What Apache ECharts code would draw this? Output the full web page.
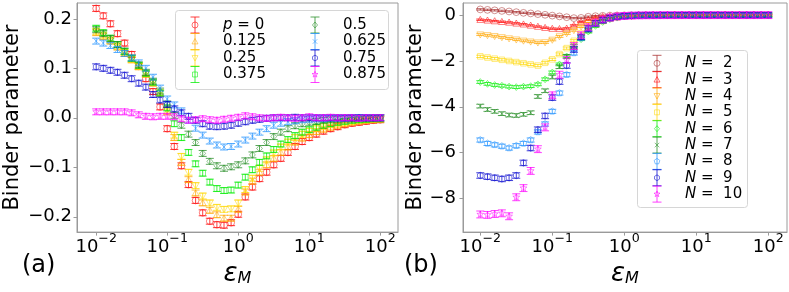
<!DOCTYPE html>
<html><head><meta charset="utf-8">
<script src="https://cdn.jsdelivr.net/npm/echarts@6/dist/echarts.min.js"></script>
<style>html,body{margin:0;padding:0;background:#fff}#c{width:789px;height:292px}</style>
</head><body><div id="c"></div>
<script>
// log10(eps_M) sample grid
const logEps = [-2.0,-1.9,-1.8,-1.7,-1.6,-1.5,-1.4,-1.3,-1.2,-1.1,-1.0,-0.9,-0.8,-0.7,-0.6,-0.5,-0.4,-0.3,-0.2,-0.1,0.0,0.1,0.2,0.3,0.4,0.5,0.6,0.7,0.8,0.9,1.0,1.1,1.2,1.3,1.4,1.5,1.6,1.7,1.8,1.9,2.0];

// panel (a): Binder parameter for different p
const pNames = ['p = 0','0.125','0.25','0.375','0.5','0.625','0.75','0.875'];
const bp0   = [0.221,0.206,0.19,0.17,0.151,0.128,0.104,0.079,0.053,0.022,-0.022,-0.058,-0.097,-0.135,-0.167,-0.192,-0.209,-0.216,-0.217,-0.212,-0.195,-0.16,-0.14,-0.123,-0.11,-0.095,-0.082,-0.07,-0.058,-0.048,-0.04,-0.033,-0.027,-0.022,-0.018,-0.014,-0.011,-0.009,-0.007,-0.005,-0.004];
const bp125 = [0.172,0.164,0.155,0.143,0.13,0.117,0.103,0.088,0.07,0.05,0.012,-0.04,-0.09,-0.125,-0.152,-0.172,-0.187,-0.196,-0.203,-0.203,-0.185,-0.15,-0.128,-0.11,-0.095,-0.082,-0.07,-0.059,-0.049,-0.041,-0.034,-0.028,-0.023,-0.019,-0.015,-0.012,-0.009,-0.007,-0.005,-0.004,-0.003];
const bp25  = [0.175,0.167,0.157,0.145,0.132,0.118,0.104,0.089,0.071,0.05,0.015,-0.035,-0.078,-0.11,-0.137,-0.158,-0.172,-0.181,-0.185,-0.184,-0.172,-0.145,-0.122,-0.102,-0.085,-0.071,-0.059,-0.049,-0.04,-0.033,-0.027,-0.022,-0.018,-0.014,-0.011,-0.009,-0.007,-0.005,-0.004,-0.003,-0.002];
const bp375 = [0.181,0.172,0.161,0.148,0.134,0.12,0.106,0.09,0.072,0.05,0.02,-0.012,-0.04,-0.07,-0.093,-0.112,-0.13,-0.143,-0.147,-0.146,-0.136,-0.12,-0.105,-0.09,-0.077,-0.064,-0.053,-0.044,-0.036,-0.029,-0.024,-0.019,-0.015,-0.012,-0.009,-0.007,-0.005,-0.004,-0.003,-0.002,-0.002];
const bp5   = [0.178,0.17,0.16,0.148,0.135,0.121,0.107,0.092,0.074,0.054,0.028,0.005,-0.015,-0.033,-0.05,-0.072,-0.088,-0.097,-0.102,-0.099,-0.095,-0.087,-0.075,-0.062,-0.05,-0.038,-0.029,-0.022,-0.016,-0.012,-0.009,-0.007,-0.005,-0.004,-0.003,-0.002,-0.002,-0.001,-0.001,-0.001,0];
const bp625 = [0.155,0.151,0.146,0.138,0.13,0.121,0.111,0.1,0.082,0.06,0.038,0.026,0.014,-0.005,-0.021,-0.035,-0.047,-0.055,-0.059,-0.058,-0.053,-0.045,-0.037,-0.029,-0.022,-0.015,-0.011,-0.008,-0.006,-0.004,-0.003,-0.002,-0.002,-0.001,-0.001,-0.001,0,0,0,0,0];
const bp75  = [0.103,0.1,0.096,0.092,0.086,0.079,0.07,0.062,0.047,0.036,0.027,0.018,0.01,0.003,-0.005,-0.012,-0.017,-0.018,-0.017,-0.015,-0.011,-0.008,-0.005,-0.003,-0.001,0,0,0,0.001,0,0,0,0,0,0,0,0,0,0,0,0];
const bp875 = [0.012,0.012,0.012,0.012,0.012,0.01,0.006,0.003,0.002,0.003,0.003,0.002,-0.002,-0.005,-0.004,-0.002,-0.004,-0.005,-0.003,-0.001,0.001,0.004,0.002,0,-0.001,0,0.001,0,-0.001,0,0.002,0,0,0.001,0,0,0,-0.001,0,0,0];
const errA = [0.006,0.006,0.006,0.006,0.006,0.006,0.006,0.006];

// panel (b): Binder parameter for different N
const nNames = ['2','3','4','5','6','7','8','9','10'];
const bn2  = [0.25,0.23,0.21,0.185,0.16,0.13,0.1,0.075,0.045,0.015,-0.02,-0.055,-0.09,-0.13,-0.12,-0.07,-0.045,-0.03,-0.02,-0.012,-0.008,-0.005,-0.003,-0.002,-0.002,-0.001,-0.001,0,0,0,0,0,0,0,0,0,0,0,0,0,0];
const bn3  = [-0.2,-0.23,-0.26,-0.29,-0.32,-0.36,-0.4,-0.45,-0.5,-0.55,-0.59,-0.6,-0.58,-0.45,-0.3,-0.2,-0.12,-0.07,-0.045,-0.03,-0.02,-0.012,-0.008,-0.005,-0.003,-0.002,-0.001,-0.001,0,0,0,0,0,0,0,0,0,0,0,0,0];
const bn4  = [-0.85,-0.88,-0.92,-0.97,-1.02,-1.07,-1.12,-1.16,-1.2,-1.19,-1.08,-0.93,-0.8,-0.66,-0.5,-0.36,-0.25,-0.16,-0.1,-0.06,-0.04,-0.025,-0.015,-0.01,-0.006,-0.004,-0.003,-0.002,-0.001,-0.001,0,0,0,0,0,0,0,0,0,0,0];
const bn5  = [-1.8,-1.85,-1.9,-1.95,-2.0,-2.05,-2.1,-2.15,-2.2,-2.08,-1.93,-1.7,-1.44,-1.12,-0.8,-0.58,-0.4,-0.26,-0.16,-0.1,-0.06,-0.04,-0.025,-0.015,-0.01,-0.006,-0.004,-0.003,-0.002,-0.001,0,0,0,0,0,0,0,0,0,0,0];
const bn6  = [-2.92,-3.0,-3.05,-3.08,-3.12,-3.14,-3.12,-3.1,-3.02,-2.8,-2.5,-2.15,-1.8,-1.42,-1.05,-0.72,-0.47,-0.3,-0.18,-0.11,-0.06,-0.035,-0.02,-0.012,-0.008,-0.005,-0.003,-0.002,-0.001,-0.001,0,0,0,0,0,0,0,0,0,0,0];
const bn7  = [-3.97,-4.12,-4.2,-4.3,-4.36,-4.38,-4.33,-4.26,-3.55,-3.3,-2.7,-2.25,-1.8,-1.35,-0.98,-0.66,-0.42,-0.26,-0.16,-0.09,-0.05,-0.03,-0.018,-0.01,-0.006,-0.004,-0.002,-0.001,-0.001,0,0,0,0,0,0,0,0,0,0,0,0];
const bn8  = [-5.45,-5.6,-5.66,-5.72,-5.8,-5.7,-5.6,-5.45,-5.1,-4.75,-4.2,-3.4,-2.6,-1.65,-1.0,-0.62,-0.38,-0.23,-0.14,-0.08,-0.045,-0.025,-0.015,-0.01,-0.006,-0.004,-0.002,-0.001,-0.001,0,0,0,0,0,0,0,0,0,0,0,0];
const bn9  = [-7.0,-7.05,-7.1,-7.15,-7.1,-7.0,-6.45,-5.8,-5.0,-4.4,-3.6,-2.9,-2.2,-1.5,-0.95,-0.58,-0.35,-0.21,-0.12,-0.07,-0.04,-0.022,-0.012,-0.008,-0.005,-0.003,-0.002,-0.001,0,0,0,0,0,0,0,0,0,0,0,0,0];
const bn10 = [-8.7,-8.72,-8.68,-8.65,-8.78,-7.95,-7.55,-6.8,-5.85,-4.9,-3.5,-2.6,-1.95,-1.35,-0.88,-0.53,-0.32,-0.19,-0.11,-0.06,-0.035,-0.02,-0.012,-0.007,-0.004,-0.002,-0.001,-0.001,0,0,0,0,0,0,0,0,0,0,0,0,0];
const errB = [0.03,0.03,0.04,0.05,0.06,0.08,0.09,0.12,0.15];

// ticks
const xTicks = [-2,-1,0,1,2];
const yTicksA = [-0.2,-0.1,0,0.1,0.2];
const yTicksB = [-8,-6,-4,-2,0];

const seriesA = [bp0,bp125,bp25,bp375,bp5,bp625,bp75,bp875];
const seriesB = [bn2,bn3,bn4,bn5,bn6,bn7,bn8,bn9,bn10];

const FONT = 'DejaVu Sans';
const colorsA = ['#ff0000','#ffa500','#ffd700','#00ee00','#228b22','#1e90ff','#0000cd','#ff00ff'];
const shapesA = ['circle','triUp','triDown','square','diamond','cross','hexagon','star'];
const colorsB = ['#a52a2a','#ff0000','#ffa500','#ffd700','#00ee00','#228b22','#1e90ff','#0000cd','#ff00ff'];
const shapesB = ['circle','triUp','triDown','square','diamond','cross','pentagon','hexagon','star'];

function regPoly(n, cx, cy, r) {
  const pts = [];
  for (let k = 0; k < n; k++) { const a = 2 * Math.PI * k / n; pts.push([cx + r * Math.sin(a), cy - r * Math.cos(a)]); }
  return pts;
}
function starPts(cx, cy, r) {
  const pts = [];
  for (let k = 0; k < 10; k++) { const a = Math.PI * k / 5; const rr = k % 2 ? r * 0.42 : r; pts.push([cx + rr * Math.sin(a), cy - rr * Math.cos(a)]); }
  return pts;
}
function markerEls(shape, cx, cy, r, color, op) {
  const st = {fill: 'none', stroke: color, lineWidth: 1, opacity: op};
  switch (shape) {
    case 'circle': return [{type: 'circle', shape: {cx, cy, r}, style: st}];
    case 'triUp': return [{type: 'polygon', shape: {points: [[cx, cy - r], [cx + r, cy + r * 0.8], [cx - r, cy + r * 0.8]]}, style: st}];
    case 'triDown': return [{type: 'polygon', shape: {points: [[cx, cy + r], [cx + r, cy - r * 0.8], [cx - r, cy - r * 0.8]]}, style: st}];
    case 'square': { const s = r * 0.82; return [{type: 'rect', shape: {x: cx - s, y: cy - s, width: 2 * s, height: 2 * s}, style: st}]; }
    case 'diamond': return [{type: 'polygon', shape: {points: [[cx, cy - r], [cx + r * 0.85, cy], [cx, cy + r], [cx - r * 0.85, cy]]}, style: st}];
    case 'cross': { const s = r * 0.75; return [
      {type: 'line', shape: {x1: cx - s, y1: cy - s, x2: cx + s, y2: cy + s}, style: st},
      {type: 'line', shape: {x1: cx - s, y1: cy + s, x2: cx + s, y2: cy - s}, style: st}]; }
    case 'pentagon': return [{type: 'polygon', shape: {points: regPoly(5, cx, cy, r)}, style: st}];
    case 'hexagon': return [{type: 'polygon', shape: {points: regPoly(6, cx, cy, r * 0.95)}, style: st}];
    case 'star': return [{type: 'polygon', shape: {points: starPts(cx, cy, r * 1.05)}, style: st}];
  }
  return [];
}
function errEls(cx, top, bot, cw, color, op) {
  const ls = {stroke: color, lineWidth: 1, opacity: op};
  return [
    {type: 'line', shape: {x1: cx, y1: top, x2: cx, y2: bot}, style: ls},
    {type: 'line', shape: {x1: cx - cw, y1: top, x2: cx + cw, y2: top}, style: ls},
    {type: 'line', shape: {x1: cx - cw, y1: bot, x2: cx + cw, y2: bot}, style: ls}
  ];
}
function makeRender(shape, color) {
  return function (params, api) {
    const x = api.value(0), y = api.value(1), e = api.value(2);
    const c = api.coord([x, y]);
    const t = api.coord([x, y + e])[1];
    const b = api.coord([x, y - e])[1];
    return {type: 'group', children: errEls(c[0], t, b, 4, color, 0.75).concat(markerEls(shape, c[0], c[1], 3.4, color, 0.5))};
  };
}

const series = [];
seriesA.forEach((vals, i) => {
  series.push({type: 'custom', name: pNames[i], xAxisIndex: 0, yAxisIndex: 0, silent: true,
    renderItem: makeRender(shapesA[i], colorsA[i]), encode: {x: 0, y: 1},
    data: logEps.map((l, k) => [l, vals[k], errA[i]])});
});
seriesB.forEach((vals, i) => {
  series.push({type: 'custom', name: 'N = ' + nNames[i], xAxisIndex: 1, yAxisIndex: 1, silent: true,
    renderItem: makeRender(shapesB[i], colorsB[i]), encode: {x: 0, y: 1},
    data: logEps.map((l, k) => [l, vals[k], errB[i]])});
});

const axisGrey = '#9a9a9a';
function xAxisCfg(idx, min, max) {
  return {
    type: 'value', gridIndex: idx, min, max,
    name: '{e|ε}{m|M}', nameLocation: 'middle', nameGap: 17,
    nameTextStyle: {rich: {
      e: {fontFamily: FONT, fontSize: 26, fontStyle: 'italic', lineHeight: 26, verticalAlign: 'top', color: '#000'},
      m: {fontFamily: FONT, fontSize: 16, fontStyle: 'italic', lineHeight: 14, verticalAlign: 'bottom', color: '#000'}}},
    splitLine: {show: false},
    axisLine: {onZero: false, lineStyle: {color: axisGrey, width: 1}},
    axisTick: {customValues: xTicks, length: 3.5, lineStyle: {color: axisGrey}},
    axisLabel: {customValues: xTicks, margin: 0,
      formatter: v => '{b|10}{s|' + (v < 0 ? '\u2212' + (-v) : v) + '}',
      rich: {
        b: {fontFamily: FONT, fontSize: 18, lineHeight: 24, verticalAlign: 'bottom', color: '#000'},
        s: {fontFamily: FONT, fontSize: 12.6, lineHeight: 2, verticalAlign: 'top', color: '#000'}}}
  };
}
function yAxisCfg(idx, min, max, ticks, gap, margin, fmt) {
  return {
    type: 'value', gridIndex: idx, min, max,
    name: 'Binder parameter', nameLocation: 'middle', nameGap: gap,
    nameTextStyle: {fontFamily: FONT, fontSize: 21, color: '#000'},
    splitLine: {show: false},
    axisLine: {show: true, onZero: false, lineStyle: {color: axisGrey, width: 1}},
    axisTick: {customValues: ticks, length: 3.5, lineStyle: {color: axisGrey}},
    axisLabel: {customValues: ticks, margin, fontFamily: FONT, fontSize: 18, color: '#000', formatter: fmt}
  };
}
const fmtA = v => { const s = Math.abs(v).toFixed(1); return v < -1e-9 ? '\u2212' + s : s; };
const fmtB = v => v < 0 ? '\u2212' + (-v) : String(v);

// legends (drawn as graphic groups)
const graphic = [];
function legendEntry(x, tx, y, shape, color, label, rich) {
  const kids = errEls(x, y - 8, y + 8, 4.5, color, 0.75).concat(markerEls(shape, x, y, 3, color, 0.55));
  kids.push({type: 'text', style: {x: tx, y, text: label, fontFamily: FONT, fontSize: 15, fill: '#000', verticalAlign: 'middle', align: 'left', rich}});
  return kids;
}
const italic = {i: {fontFamily: FONT, fontSize: 15, fontStyle: 'italic', fill: '#000'}};
let legA = [{type: 'rect', shape: {x: 175.5, y: 10.5, width: 213, height: 79, r: 3}, style: {fill: 'rgba(255,255,255,0.85)', stroke: '#d6d6d6', lineWidth: 1}}];
const rowsA = [25, 41.5, 58, 74.5];
pNames.forEach((nm, i) => {
  const col = Math.floor(i / 4), row = i % 4;
  const label = i === 0 ? '{i|p} = 0' : nm;
  legA = legA.concat(legendEntry(col ? 315 : 195, col ? 343 : 223, rowsA[row], shapesA[i], colorsA[i], label, italic));
});
let legB = [{type: 'rect', shape: {x: 637.5, y: 50.5, width: 110, height: 157, r: 3}, style: {fill: 'rgba(255,255,255,0.85)', stroke: '#d6d6d6', lineWidth: 1}}];
nNames.forEach((nm, i) => {
  const y = 63.3 + 16.35 * i;
  legB = legB.concat(legendEntry(657, 685, y, shapesB[i], colorsB[i], '{i|N} =  ' + nm, italic));
});
graphic.push({type: 'group', silent: true, z: 100, children: legA});
graphic.push({type: 'group', silent: true, z: 100, children: legB});
graphic.push({type: 'text', silent: true, style: {x: 22, y: 266, text: '(a)', fontFamily: FONT, fontSize: 24, fill: '#000', verticalAlign: 'middle'}});
graphic.push({type: 'text', silent: true, style: {x: 404, y: 266, text: '(b)', fontFamily: FONT, fontSize: 24, fill: '#000', verticalAlign: 'middle'}});

const chart = echarts.init(document.getElementById('c'), null, {renderer: 'canvas'});
chart.setOption({
  animation: false,
  backgroundColor: '#fff',
  grid: [
    {left: 77, top: 3, width: 321, height: 237, show: true, borderColor: axisGrey, borderWidth: 1, backgroundColor: 'transparent'},
    {left: 463, top: 3, width: 324, height: 236, show: true, borderColor: axisGrey, borderWidth: 1, backgroundColor: 'transparent'}
  ],
  xAxis: [xAxisCfg(0, -2.27, 2.25), xAxisCfg(1, -2.24, 2.26)],
  yAxis: [yAxisCfg(0, -0.231, 0.232, yTicksA, 54, 5, fmtA), yAxisCfg(1, -9.47, 0.53, yTicksB, 32, 7, fmtB)],
  series,
  graphic
});
</script>
</body></html>
